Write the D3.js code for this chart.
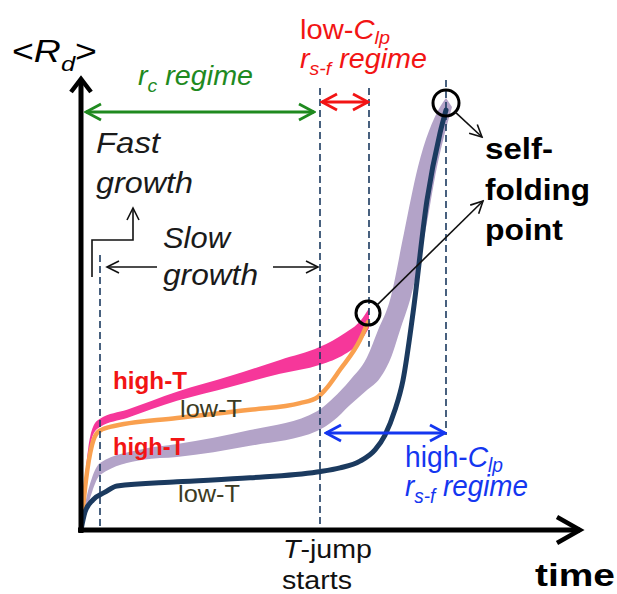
<!DOCTYPE html>
<html>
<head>
<meta charset="utf-8">
<script src="https://cdn.jsdelivr.net/npm/d3@7"></script>
<style>
  body { margin: 0; background: #fff; }
  svg { display: block; }
  text { font-family: "Liberation Sans", Arial, sans-serif; }
</style>
</head>
<body>
<div id="chart"></div>
<script>
// schematic values, arbitrary units (time 0-100, <Rd> 0-100)
var markTimes  = [3.8, 47.8, 57.6, 73];     // dashed guide lines
var markTop    = [61.1, 98.2, 98.2, 100];
var markBottom = [0, 0, 40.7, 21.1];

// high-T, upper set (pink band)
var pinkTime  = [0, 0.6, 1.4, 2.4, 3.8, 9.2, 19.2, 29.8, 39.8, 47.8, 52.8, 55.8, 57.6];
var pinkUpper = [0.4, 8.9, 17.8, 22.9, 24.7, 26.7, 30.7, 34.2, 37.8, 40.7, 43.8, 46.4, 49.3];
var pinkLower = [0, 6.7, 15.1, 21.1, 22.9, 24.9, 28.7, 31.8, 34.7, 36.7, 39.1, 41.8, 44.9];

// low-T, upper set (orange line)
var orangeTime = [0, 1, 2.2, 3.4, 5.8, 19.2, 33.8, 43.8, 47.4, 48.8, 51.8, 55.8, 57.4];
var orangeVal  = [0, 11.1, 18.9, 21.8, 22.9, 24.9, 26.7, 28.2, 29.6, 31.1, 35.6, 42.2, 46.2];

// high-T, lower set (lavender band, edges listed separately)
var lavUpperTime = [0, 1, 2.2, 3.8, 12.4, 19.2, 33.8, 47.2, 50.4, 53.8, 57.2, 59.4, 61.8, 64.6, 67.4, 71.8, 73];
var lavUpperVal  = [0, 6.7, 11.6, 14.9, 18, 19.1, 22.2, 26.4, 29.3, 33.3, 38.4, 44.4, 51.1, 66, 80.7, 94, 96];
var lavLowerTime = [0, 1, 2.2, 3.8, 12.4, 19.2, 33.8, 47.2, 50.4, 53.8, 57.2, 59.8, 62.2, 63.8, 65.8, 68.8, 71.2, 74.2];
var lavLowerVal  = [0, 4, 8.4, 12.2, 15.6, 16.2, 18.7, 22, 24.2, 27.8, 31.1, 33.8, 38.9, 44.4, 51.1, 66, 80.7, 94];

// low-T, lower set (navy line)
var navyTime = [0, 0.8, 2.4, 4.8, 7.2, 19.2, 33.8, 47.2, 51.8, 55.8, 58.8, 60.8, 62.8, 64.4, 66.4, 69.2, 71.8, 73];
var navyVal  = [0, 4, 6.7, 8.4, 9.8, 10.7, 11.6, 12.9, 13.8, 15.3, 17.8, 21.1, 26.7, 33.3, 48.2, 73.3, 88.2, 93.3];

// self-folding points
var foldTime = [73, 57.4];
var foldVal  = [94.9, 48.2];

var width = 617, height = 594;
var navy = "#1b3a5f", pink = "#f6379a", orange = "#f9a04f", lavender = "#b3a3c8";
var green = "#1f8a1f", red = "#f21414", blue = "#1436f0", olive = "#3c3b22";

var svg = d3.select("#chart").append("svg")
            .attr("width", width)
            .attr("height", height);

var x = d3.scaleLinear().domain([0, 100]).range([81, 581]);
var y = d3.scaleLinear().domain([0, 100]).range([530, 80]);

var line = d3.line()
             .x(function(d) { return x(d[0]); })
             .y(function(d) { return y(d[1]); })
             .curve(d3.curveMonotoneX);

function pts(ts, vs) {
  return ts.map(function(t, i) { return [t, vs[i]]; });
}

// closed shape from two edges
function bandPath(up, lo) {
  return line(up) + line(lo.slice().reverse()).replace("M", "L") + "Z";
}

// arrow heads
var defs = svg.append("defs");
function marker(id, color, len, half, sw) {
  defs.append("marker")
      .attr("id", id)
      .attr("markerUnits", "userSpaceOnUse")
      .attr("viewBox", (-len - 2) + " " + (-half - 2) + " " + (len + 4) + " " + (2 * half + 4))
      .attr("refX", 0).attr("refY", 0)
      .attr("markerWidth", len + 4).attr("markerHeight", 2 * half + 4)
      .attr("orient", "auto-start-reverse")
      .append("path")
      .attr("d", "M" + (-len) + "," + (-half) + "L0,0L" + (-len) + "," + half)
      .attr("fill", "none").attr("stroke", color).attr("stroke-width", sw)
      .attr("stroke-linejoin", "miter");
}
marker("ag", green, 15, 8, 2.8);
marker("ar", red, 15, 8, 2.8);
marker("ab", blue, 15, 8, 2.8);
marker("ak", "#111", 12, 6, 1.6);

// curves
svg.append("path")
   .attr("d", bandPath(pts(lavUpperTime, lavUpperVal), pts(lavLowerTime, lavLowerVal)))
   .attr("fill", lavender);

svg.append("path")
   .attr("d", bandPath(pts(pinkTime, pinkUpper), pts(pinkTime, pinkLower)))
   .attr("fill", pink);

svg.append("path")
   .attr("d", line(pts(orangeTime, orangeVal)))
   .attr("fill", "none").attr("stroke", orange).attr("stroke-width", 4.5)
   .attr("stroke-linecap", "round");

svg.append("path")
   .attr("d", line(pts(navyTime, navyVal)))
   .attr("fill", "none").attr("stroke", navy).attr("stroke-width", 5)
   .attr("stroke-linecap", "round");

// dashed guides
svg.selectAll(".guide").data(markTimes).enter().append("line")
   .attr("class", "guide")
   .attr("x1", function(d) { return x(d); })
   .attr("x2", function(d) { return x(d); })
   .attr("y1", function(d, i) { return y(markTop[i]); })
   .attr("y2", function(d, i) { return y(markBottom[i]); })
   .attr("stroke", navy).attr("stroke-width", 1.6)
   .attr("stroke-dasharray", "7,4");

// axes
svg.append("line").attr("x1", x(0)).attr("y1", y(0) + 3).attr("x2", x(0)).attr("y2", 79)
   .attr("stroke", "#000").attr("stroke-width", 5);
svg.append("path").attr("d", "M" + (x(0) - 10) + ",92L" + x(0) + ",79L" + (x(0) + 10) + ",92")
   .attr("fill", "none").attr("stroke", "#000").attr("stroke-width", 4.5);
svg.append("line").attr("x1", x(0) - 3).attr("y1", y(0)).attr("x2", 580).attr("y2", y(0))
   .attr("stroke", "#000").attr("stroke-width", 5);
svg.append("path").attr("d", "M557," + (y(0) - 13) + "L580," + y(0) + "L557," + (y(0) + 13))
   .attr("fill", "none").attr("stroke", "#000").attr("stroke-width", 4.5);

// regime arrows
svg.append("line").attr("x1", x(0) + 5).attr("x2", x(markTimes[1]) - 6).attr("y1", 112).attr("y2", 112)
   .attr("stroke", green).attr("stroke-width", 2.8)
   .attr("marker-start", "url(#ag)").attr("marker-end", "url(#ag)");
svg.append("line").attr("x1", x(markTimes[1]) + 2).attr("x2", x(markTimes[2]) - 1).attr("y1", 102).attr("y2", 102)
   .attr("stroke", red).attr("stroke-width", 2.8)
   .attr("marker-start", "url(#ar)").attr("marker-end", "url(#ar)");
svg.append("line").attr("x1", x(markTimes[1]) + 6).attr("x2", x(markTimes[3]) - 1).attr("y1", 433).attr("y2", 433)
   .attr("stroke", blue).attr("stroke-width", 2.8)
   .attr("marker-start", "url(#ab)").attr("marker-end", "url(#ab)");

// growth arrows
svg.append("path").attr("d", "M92,277V240H133V208")
   .attr("fill", "none").attr("stroke", "#111").attr("stroke-width", 1.6)
   .attr("marker-end", "url(#ak)");
svg.append("line").attr("x1", 157).attr("x2", 107).attr("y1", 267).attr("y2", 267)
   .attr("stroke", "#111").attr("stroke-width", 1.6).attr("marker-end", "url(#ak)");
svg.append("line").attr("x1", 273).attr("x2", 318).attr("y1", 267).attr("y2", 267)
   .attr("stroke", "#111").attr("stroke-width", 1.6).attr("marker-end", "url(#ak)");

// self-folding circles and pointers
svg.selectAll(".fold").data(foldTime).enter().append("circle")
   .attr("class", "fold")
   .attr("cx", function(d) { return x(d); })
   .attr("cy", function(d, i) { return y(foldVal[i]); })
   .attr("r", function(d, i) { return i ? 12 : 13; })
   .attr("fill", "none").attr("stroke", "#000").attr("stroke-width", 3);
svg.append("line").attr("x1", x(foldTime[0]) + 9).attr("y1", y(foldVal[0]) + 9)
   .attr("x2", 482).attr("y2", 137)
   .attr("stroke", "#111").attr("stroke-width", 1.6).attr("marker-end", "url(#ak)");
svg.append("line").attr("x1", x(foldTime[1]) + 9).attr("y1", y(foldVal[1]) - 8)
   .attr("x2", 483).attr("y2", 201)
   .attr("stroke", "#111").attr("stroke-width", 1.6).attr("marker-end", "url(#ak)");

// text helper: parts with italic / subscript pieces (sub = drop in em)
function label(x0, y0, size, fill, weight, len, parts) {
  var t = svg.append("text").attr("x", x0).attr("y", y0)
             .attr("font-size", size).attr("fill", fill).attr("font-weight", weight);
  if (len) t.attr("textLength", len).attr("lengthAdjust", "spacingAndGlyphs");
  var shift = 0;
  parts.forEach(function(p) {
    var s = t.append("tspan").text(p.t);
    var want = p.sub ? size * p.sub : 0;
    if (want !== shift) { s.attr("dy", want - shift); shift = want; }
    if (p.sub) s.attr("font-size", size * 0.68);
    if (p.it) s.attr("font-style", "italic");
  });
  return t;
}

label(12, 62, 31, "#000", "normal", 85, [{t: "<"}, {t: "R", it: 1}, {t: "d", it: 1, sub: 0.3}, {t: ">"}]);
label(138, 85, 27, green, "normal", 115, [{t: "r", it: 1}, {t: "c", it: 1, sub: 0.25}, {t: " regime", it: 1}]);
label(300, 39, 28, red, "normal", 90, [{t: "low-"}, {t: "C", it: 1}, {t: "lp", it: 1, sub: 0.17}]);
label(300, 68, 28, red, "normal", 127, [{t: "r", it: 1}, {t: "s-f", it: 1, sub: 0.25}, {t: " regime", it: 1}]);
label(405, 467, 29, blue, "normal", 98, [{t: "high-"}, {t: "C", it: 1}, {t: "lp", it: 1, sub: 0.17}]);
label(405, 496, 29, blue, "normal", 123, [{t: "r", it: 1}, {t: "s-f", it: 1, sub: 0.25}, {t: " regime", it: 1}]);

label(96, 153, 29, "#1a1a1a", "normal", 64, [{t: "Fast", it: 1}]);
label(96, 193, 29, "#1a1a1a", "normal", 97, [{t: "growth", it: 1}]);
label(163, 248, 29, "#1a1a1a", "normal", 67, [{t: "Slow", it: 1}]);
label(163, 285, 29, "#1a1a1a", "normal", 95, [{t: "growth", it: 1}]);

label(113, 389, 23, red, "bold", 74, [{t: "high-T"}]);
label(113, 455, 23, red, "bold", 72, [{t: "high-T"}]);
label(180, 417, 24, olive, "normal", 62, [{t: "low-T"}]);
label(178, 502, 24, olive, "normal", 62, [{t: "low-T"}]);

label(283, 558, 25, "#111", "normal", 89, [{t: "T", it: 1}, {t: "-jump"}]);
label(282, 589, 25, "#111", "normal", 70, [{t: "starts"}]);

label(485, 159, 30, "#000", "bold", 68, [{t: "self-"}]);
label(485, 200, 30, "#000", "bold", 105, [{t: "folding"}]);
label(485, 240, 30, "#000", "bold", 78, [{t: "point"}]);
label(535, 586, 31, "#000", "bold", 80, [{t: "time"}]);
</script>
</body>
</html>
